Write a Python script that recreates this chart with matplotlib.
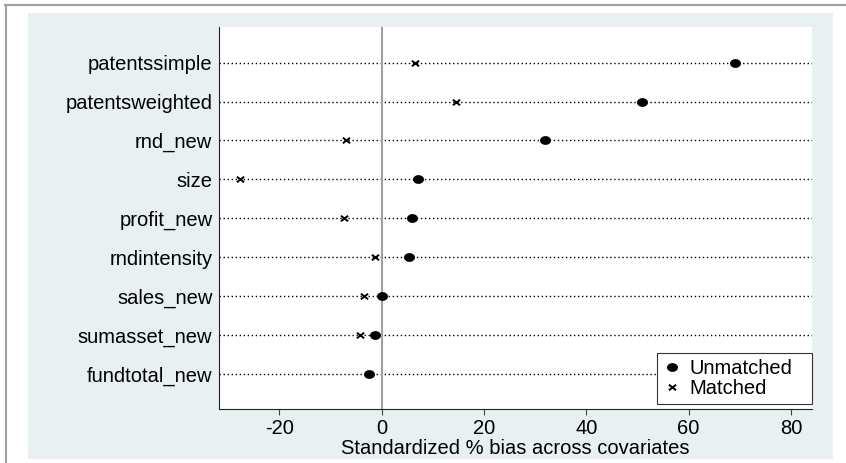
import numpy as np
import matplotlib
matplotlib.use("Agg")
import matplotlib.pyplot as plt
from matplotlib.path import Path
from matplotlib.lines import Line2D
from matplotlib.patches import Rectangle

covariates = ["patentssimple", "patentsweighted", "rnd_new", "size", "profit_new",
              "rndintensity", "sales_new", "sumasset_new", "fundtotal_new"]
unmatched = [69.1, 50.8, 32.0, 7.1, 6.0, 5.3, 0.0, -1.3, -2.4]
matched = [6.5, 14.5, -7.0, -27.8, -7.3, -1.3, -3.4, -4.2, -2.5]
xticks = [-20, 0, 20, 40, 60, 80]

plt.rcParams['font.family'] = ['Liberation Sans', 'DejaVu Sans']
FS = 14.5

W, H = 846, 463
fig = plt.figure(figsize=(W / 100, H / 100), dpi=100)
fig.patch.set_facecolor("white")

# stata-ish window frame + graph region
fig.add_artist(Line2D([5 / W, 1], [1 - 5 / H, 1 - 5 / H], color="#a0a0a0", lw=1.5))
fig.add_artist(Line2D([5.7 / W, 5.7 / W], [0, 1 - 5 / H], color="#a0a0a0", lw=1.5))
fig.add_artist(Rectangle((27.7 / W, 1 - 459.3 / H), (832.7 - 27.7) / W, (459.3 - 12.7) / H,
                         transform=fig.transFigure, facecolor="#e8f0f2", edgecolor="none", zorder=-10))

ax = fig.add_axes([219.3 / W, 1 - 409.3 / H, (811.7 - 219.3) / W, (409.3 - 26.7) / H])
ax.set_facecolor("white")

rows = np.arange(1, len(covariates) + 1)

# elliptical dot and squashed x, like stata's stretched markers
t = np.linspace(0, 2 * np.pi, 60)
dot = Path(np.column_stack([1.25 * np.cos(t), np.sin(t)]))
cross = Path([(-1.3, -1), (1.3, 1), (-1.3, 1), (1.3, -1)],
             [Path.MOVETO, Path.LINETO, Path.MOVETO, Path.LINETO])

for r in rows:
    ax.axhline(r, color="black", lw=1.0, ls=(0, (1, 1.9)), zorder=1)
ax.axvline(0, color="#a0a0a0", lw=1.5, zorder=2)

ax.plot(unmatched, rows, ls="none", marker=dot, ms=7.9, color="black", mew=0,
        zorder=3, label="Unmatched")
ax.plot(matched, rows, ls="none", marker=cross, ms=5.2, color="black", mew=1.4,
        zorder=4, label="Matched")

ax.set_xlim(-31.75, 84.07)
ax.set_ylim(9.913, 0.077)
ax.set_yticks(rows)
ax.set_yticklabels(covariates, fontsize=FS)
ax.set_xticks(xticks)
ax.set_xticklabels([str(v) for v in xticks], fontsize=FS)
ax.tick_params(axis="y", length=0, pad=5)
ax.tick_params(axis="x", length=4, width=0.8, color="#444444", pad=3)
ax.set_xlabel("Standardized % bias across covariates", fontsize=FS, labelpad=0.5)

for s in ["top", "right"]:
    ax.spines[s].set_visible(False)
for s in ["left", "bottom"]:
    ax.spines[s].set_color("#222222")
    ax.spines[s].set_linewidth(0.8)

leg_x0 = (657 - 219.3) / (811.7 - 219.3)
leg = ax.legend(loc="lower left", bbox_to_anchor=(leg_x0, 5 / 382.6, 1 - leg_x0, 0.1),
                mode="expand", borderaxespad=0,
                fontsize=FS, frameon=True, fancybox=False, framealpha=1,
                edgecolor="#333333", labelspacing=0.05, borderpad=0.3,
                handlelength=0.85, handletextpad=0.45)
leg.get_frame().set_linewidth(0.8)

fig.savefig("out.png", dpi=100)
